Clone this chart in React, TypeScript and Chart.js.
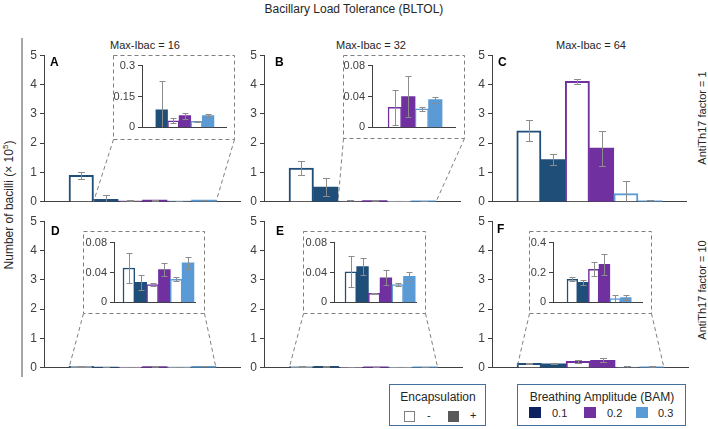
import React, { useEffect, useRef } from 'react';
import { Chart, registerables } from 'chart.js';

Chart.register(...registerables);

// ---------- data ----------
const barLabels = ['0.1 −', '0.1 +', '0.2 −', '0.2 +', '0.3 −', '0.3 +'];
const bamLevels = ['0.1', '0.2', '0.3'];
const bamColors = ['#1F4E79', '#7030A0', '#5B9BD5'];
const bamLegendColors = ['#0E2160', '#7030A0', '#5B9BD5'];
const encLabels = ['-', '+'];
const columnTitles = ['Max-Ibac = 16', 'Max-Ibac = 32', 'Max-Ibac = 64'];
const rowTitles = ['AntiTh17 factor = 1', 'AntiTh17 factor = 10'];
const panelLetters = ['A', 'B', 'C', 'D', 'E', 'F'];

const mainTicks = [0, 1, 2, 3, 4, 5];

const valuesA = [0.9, 0.085, 0.032, 0.057, 0.029, 0.057];
const errorsA = [0.12, 0.14, 0.013, 0.015, 0.003, 0.007];
const valuesB = [1.15, 0.5, 0.026, 0.04, 0.024, 0.036];
const errorsB = [0.24, 0.3, 0.023, 0.027, 0.003, 0.004];
const valuesC = [2.42, 1.44, 4.11, 1.83, 0.28, 0.035];
const errorsC = [0.36, 0.18, 0.09, 0.6, 0.42, 0.03];
const valuesD = [0.046, 0.027, 0.024, 0.044, 0.031, 0.053];
const errorsD = [0.02, 0.01, 0.002, 0.009, 0.003, 0.008];
const valuesE = [0.041, 0.048, 0.012, 0.033, 0.024, 0.035];
const errorsE = [0.021, 0.012, 0.001, 0.01, 0.002, 0.006];
const valuesF = [0.155, 0.134, 0.222, 0.255, 0.025, 0.033];
const errorsF = [0.015, 0.018, 0.045, 0.07, 0.025, 0.017];

const insetTicksA = [0, 0.15, 0.3];
const insetTicksB = [0, 0.04, 0.08];
const insetTicksD = [0, 0.04, 0.08];
const insetTicksE = [0, 0.04, 0.08];
const insetTicksF = [0, 0.2, 0.4];

// ---------- layout ----------
const FONT = "'Liberation Sans', Arial, Helvetica, sans-serif";
const AXIS = '#404040';
const TEXT = '#262626';

type Inset = {
  start: number; ticks: number[]; box: number[];
  axisX: number; right: number; top: number; bottom: number; xMin: number; xMax: number;
};
type PanelCfg = {
  values: number[]; errors: number[];
  axisX: number; right: number; top: number; bottom: number;
  letter: string; letterX: number; letterY: number;
  inset?: Inset;
};

const MAIN_XMIN = -1.52;
const MAIN_XMAX = 6.48;

const panels: PanelCfg[] = [
  { values: valuesA, errors: errorsA, axisX: 44, right: 240, top: 55, bottom: 202, letter: panelLetters[0], letterX: 50, letterY: 55,
    inset: { start: 1, ticks: insetTicksA, box: [113, 55, 234, 139], axisX: 142, right: 226, top: 64, bottom: 129, xMin: -0.7, xMax: 6.54 } },
  { values: valuesB, errors: errorsB, axisX: 264, right: 460, top: 55, bottom: 202, letter: panelLetters[1], letterX: 275, letterY: 55,
    inset: { start: 2, ticks: insetTicksB, box: [343, 55, 464, 138], axisX: 372, right: 455, top: 64, bottom: 129, xMin: 0.31, xMax: 6.46 } },
  { values: valuesC, errors: errorsC, axisX: 492, right: 686, top: 55, bottom: 202, letter: panelLetters[2], letterX: 498, letterY: 55 },
  { values: valuesD, errors: errorsD, axisX: 44, right: 240, top: 221, bottom: 368, letter: panelLetters[3], letterX: 51, letterY: 224,
    inset: { start: 0, ticks: insetTicksD, box: [83, 231, 204, 313], axisX: 114, right: 195, top: 241, bottom: 304, xMin: -1.26, xMax: 5.59 } },
  { values: valuesE, errors: errorsE, axisX: 264, right: 462, top: 221, bottom: 368, letter: panelLetters[4], letterX: 276, letterY: 224,
    inset: { start: 0, ticks: insetTicksE, box: [303, 231, 425, 313], axisX: 334, right: 416, top: 241, bottom: 304, xMin: -1.44, xMax: 5.57 } },
  { values: valuesF, errors: errorsF, axisX: 492, right: 688, top: 221, bottom: 368, letter: panelLetters[5], letterX: 497, letterY: 222,
    inset: { start: 0, ticks: insetTicksF, box: [529, 231, 651, 313], axisX: 553, right: 642, top: 241, bottom: 304, xMin: -1.81, xMax: 6.51 } },
];

type ChartSpec = {
  values: number[]; errors: number[]; start: number;
  ticks: number[]; xMin: number; xMax: number;
  fontSize: number; outline: number; cap: number; yw: number;
  pt: number; pb: number; pr: number;
  left: number; top: number; width: number; height: number;
  box?: number[]; zoomStart?: number;
};

function fmt(v: number) {
  return String(Number(Number(v).toFixed(4)));
}

function buildChart(canvas: HTMLCanvasElement, p: ChartSpec) {
  const idx = p.values.map((_, i) => i).filter((i) => i >= p.start);
  const data = idx.map((i) => ({ x: i, y: p.values[i] }));
  const bg = idx.map((i) => (i % 2 === 0 ? '#ffffff' : bamColors[Math.floor(i / 2)]));
  const bc = idx.map((i) => bamColors[Math.floor(i / 2)]);
  const bw = idx.map((i) => (i % 2 === 0 ? p.outline : 0));
  const yMax = p.ticks[p.ticks.length - 1];
  const yStep = p.ticks[1] - p.ticks[0];

  const errPlugin = {
    id: 'errbars',
    afterDatasetsDraw(chart: any) {
      const ctx = chart.ctx;
      const ys = chart.scales.y;
      const meta = chart.getDatasetMeta(0);
      const a = chart.chartArea;
      ctx.save();
      ctx.beginPath();
      ctx.rect(a.left, a.top - 2, a.right - a.left, a.bottom - a.top + 2);
      ctx.clip();
      ctx.strokeStyle = '#8c8c8c';
      ctx.lineWidth = 1;
      meta.data.forEach((el: any, k: number) => {
        const i = idx[k];
        const v = p.values[i];
        const e = p.errors[i];
        const x = Math.round(el.x) + 0.5;
        const y1 = Math.round(ys.getPixelForValue(v + e)) + 0.5;
        const lowClamped = v - e <= 0;
        const y2 = Math.round(ys.getPixelForValue(Math.max(0, v - e))) + 0.5;
        ctx.beginPath();
        ctx.moveTo(x, y1);
        ctx.lineTo(x, y2);
        ctx.moveTo(x - p.cap, y1);
        ctx.lineTo(x + p.cap, y1);
        if (!lowClamped) {
          ctx.moveTo(x - p.cap, y2);
          ctx.lineTo(x + p.cap, y2);
        }
        ctx.stroke();
      });
      ctx.restore();
    },
  };

  const boxPlugin = {
    id: 'zoombox',
    afterDraw(chart: any) {
      if (!p.box) return;
      const ctx = chart.ctx;
      const xs = chart.scales.x;
      const ys = chart.scales.y;
      const [bl, bt, br, bb] = p.box;
      const L = bl - p.left + 0.5, T = bt - p.top + 0.5, R = br - p.left + 0.5, B = bb - p.top + 0.5;
      const y0 = ys.getPixelForValue(0);
      const xa = xs.getPixelForValue((p.zoomStart || 0) - 0.5);
      const xb = xs.getPixelForValue(p.values.length - 0.5);
      ctx.save();
      ctx.strokeStyle = '#7f7f7f';
      ctx.lineWidth = 1;
      ctx.setLineDash([4, 3]);
      ctx.strokeRect(L, T, R - L, B - T);
      ctx.beginPath();
      ctx.moveTo(L, B);
      ctx.lineTo(xa, y0);
      ctx.moveTo(R, B);
      ctx.lineTo(xb, y0);
      ctx.stroke();
      ctx.restore();
    },
  };

  return new Chart(canvas, {
    type: 'bar',
    data: {
      labels: idx.map((i) => barLabels[i]),
      datasets: [
        {
          data: data as any,
          backgroundColor: bg,
          borderColor: bc,
          borderWidth: bw,
          borderSkipped: 'start',
          barPercentage: 1,
          categoryPercentage: 1,
        },
      ],
    },
    options: {
      animation: false,
      responsive: false,
      maintainAspectRatio: false,
      devicePixelRatio: 1,
      layout: { padding: { top: p.pt, bottom: p.pb, left: 0, right: p.pr } },
      plugins: { legend: { display: false }, tooltip: { enabled: false }, title: { display: false } },
      scales: {
        x: {
          type: 'linear',
          min: p.xMin,
          max: p.xMax,
          offset: false,
          ticks: { display: false },
          grid: { display: true, drawOnChartArea: false, drawTicks: false, offset: false },
          border: { display: true, color: AXIS, width: 1 },
          afterFit: (s: any) => { s.height = 0; },
        } as any,
        y: {
          type: 'linear',
          min: 0,
          max: yMax,
          ticks: {
            stepSize: yStep,
            font: { family: FONT, size: p.fontSize },
            color: AXIS,
            padding: 3,
            callback: (v: any) => fmt(v),
          },
          grid: { display: true, drawOnChartArea: false, drawTicks: true, tickLength: 4, tickColor: AXIS },
          border: { display: true, color: AXIS, width: 1 },
          afterFit: (s: any) => { s.width = p.yw; },
        } as any,
      },
    },
    plugins: [errPlugin, boxPlugin],
  } as any);
}

function ChartCanvas({ spec, z }: { spec: ChartSpec; z: number }) {
  const ref = useRef<HTMLCanvasElement | null>(null);
  useEffect(() => {
    if (!ref.current) return;
    const c = buildChart(ref.current, spec);
    return () => c.destroy();
  }, []);
  return (
    <canvas
      ref={ref}
      width={spec.width}
      height={spec.height}
      style={{ position: 'absolute', left: spec.left, top: spec.top, width: spec.width, height: spec.height, zIndex: z }}
    />
  );
}

function Panel({ cfg }: { cfg: PanelCfg }) {
  const YW = 26, PT = 10, PB = 10, PR = 6;
  const mainSpec: ChartSpec = {
    values: cfg.values, errors: cfg.errors, start: 0,
    ticks: mainTicks, xMin: MAIN_XMIN, xMax: MAIN_XMAX,
    fontSize: 12, outline: 2, cap: 3.5, yw: YW, pt: PT, pb: PB, pr: PR,
    left: cfg.axisX - YW, top: cfg.top - PT,
    width: cfg.right - cfg.axisX + YW + PR, height: cfg.bottom - cfg.top + PT + PB,
    box: cfg.inset ? cfg.inset.box : undefined,
    zoomStart: cfg.inset ? cfg.inset.start : 0,
  };

  let insetEl: any = null;
  if (cfg.inset) {
    const s = cfg.inset;
    const IYW = 30, IPT = 8, IPB = 8, IPR = 2;
    const iSpec: ChartSpec = {
      values: cfg.values, errors: cfg.errors, start: s.start,
      ticks: s.ticks, xMin: s.xMin, xMax: s.xMax,
      fontSize: 11, outline: 1.5, cap: 3, yw: IYW, pt: IPT, pb: IPB, pr: IPR,
      left: s.axisX - IYW, top: s.top - IPT,
      width: s.right - s.axisX + IYW + IPR, height: s.bottom - s.top + IPT + IPB,
    };
    insetEl = <ChartCanvas spec={iSpec} z={3} />;
  }
  return (
    <>
      <ChartCanvas spec={mainSpec} z={2} />
      {insetEl}
      <div
        style={{
          position: 'absolute', left: cfg.letterX, top: cfg.letterY, fontFamily: FONT, fontWeight: 'bold',
          fontSize: 12, lineHeight: '14px', color: '#000', zIndex: 4,
        }}
      >
        {cfg.letter}
      </div>
    </>
  );
}

export default function App() {
  const textBase: any = { position: 'absolute', fontFamily: FONT, color: TEXT, whiteSpace: 'nowrap' };
  return (
    <div style={{ position: 'fixed', left: 0, top: 0, width: 708, height: 429, background: '#fff', overflow: 'hidden' }}>
      <div style={{ ...textBase, left: 0, width: 708, top: 1, textAlign: 'center', fontSize: 12, lineHeight: '16px' }}>
        Bacillary Load Tolerance (BLTOL)
      </div>
      {columnTitles.map((t, i) => (
        <div key={t} style={{ ...textBase, left: [145, 371, 591][i] - 60, width: 120, top: 38, textAlign: 'center', fontSize: 11, lineHeight: '14px' }}>
          {t}
        </div>
      ))}
      {rowTitles.map((t, i) => (
        <div
          key={t}
          style={{
            ...textBase, left: 702 - 60, width: 120, top: [118, 290][i] - 7, textAlign: 'center', fontSize: 11,
            lineHeight: '14px', transform: 'rotate(-90deg)', transformOrigin: '60px 7px',
          }}
        >
          {t}
        </div>
      ))}
      <div
        style={{
          ...textBase, left: 9 - 90, width: 180, top: 205 - 8, textAlign: 'center', fontSize: 12,
          lineHeight: '16px', transform: 'rotate(-90deg)', transformOrigin: '90px 8px',
        }}
      >
        Number of bacilli (× 10<sup style={{ fontSize: 8, lineHeight: 0 }}>5</sup>)
      </div>
      <div style={{ position: 'absolute', left: 21, top: 38, width: 2, height: 339, background: '#a6a6a6' }} />

      {panels.map((p, i) => (
        <Panel key={i} cfg={p} />
      ))}

      {/* Encapsulation legend */}
      <div style={{ position: 'absolute', left: 389, top: 384, width: 95, height: 40, border: '1.5px solid #41719C' }} />
      <div style={{ ...textBase, left: 389, width: 98, top: 390, textAlign: 'center', fontSize: 12, lineHeight: '14px' }}>Encapsulation</div>
      <div style={{ position: 'absolute', left: 404, top: 411, width: 9, height: 9, border: '1px solid #7f7f7f', background: '#fff' }} />
      <div style={{ ...textBase, left: 427, top: 408, fontSize: 11, lineHeight: '14px' }}>{encLabels[0]}</div>
      <div style={{ position: 'absolute', left: 448, top: 411, width: 11, height: 11, background: '#595959' }} />
      <div style={{ ...textBase, left: 470, top: 408, fontSize: 11, lineHeight: '14px' }}>{encLabels[1]}</div>

      {/* BAM legend */}
      <div style={{ position: 'absolute', left: 517, top: 384, width: 167, height: 40, border: '1.5px solid #41719C' }} />
      <div style={{ ...textBase, left: 517, width: 170, top: 390, textAlign: 'center', fontSize: 12, lineHeight: '14px' }}>Breathing Amplitude (BAM)</div>
      {bamLevels.map((b, i) => (
        <React.Fragment key={b}>
          <div style={{ position: 'absolute', left: [529, 584, 636][i], top: 407, width: 12, height: 11, background: bamLegendColors[i] }} />
          <div style={{ ...textBase, left: [552, 607, 658][i], top: 406, fontSize: 11, lineHeight: '14px' }}>{b}</div>
        </React.Fragment>
      ))}
    </div>
  );
}
